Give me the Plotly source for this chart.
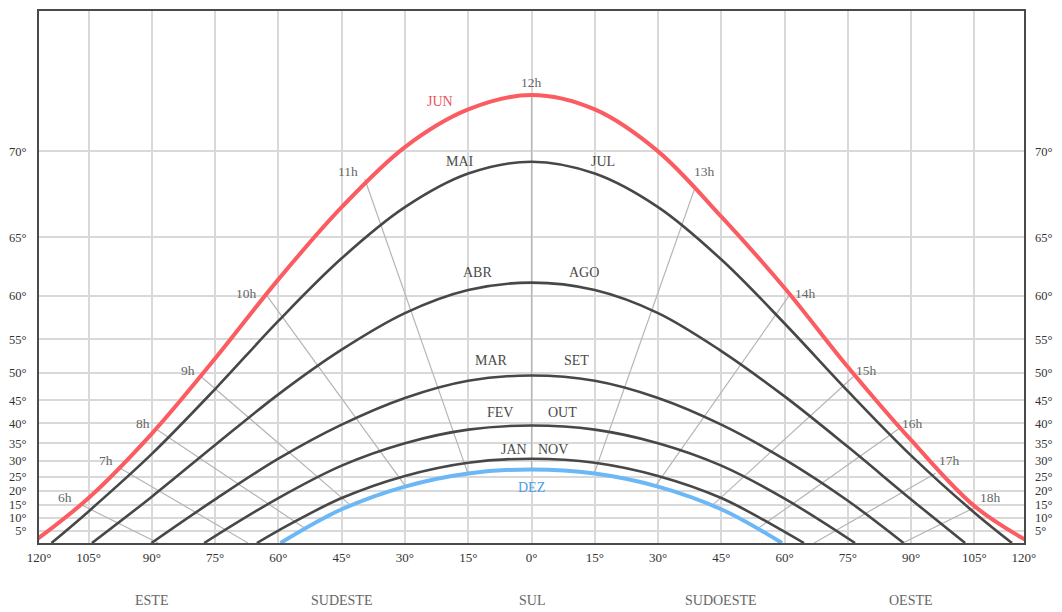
import numpy as np
import plotly.graph_objects as go

# Sun paths: azimuth measured from south (degrees, east negative) and solar altitude (degrees)
JUN_AZ = [-118.4, -105, -90, -75, -60, -45, -30, -15, 0, 15, 30, 45, 60, 75, 90, 105, 118.4]
JUN_ALT = [0, 17.5, 37.5, 52.3, 61.6, 67.0, 70.2, 71.8, 72.35, 71.8, 70.0, 66.4, 60.8, 51.0, 35.8, 14.5, 0]

MAI_AZ = [-113.8, -105, -90, -75, -60, -45, -30, -15, 0, 15, 30, 45, 60, 75, 90, 105, 113.9]
MAI_ALT = [0, 12.5, 32.0, 47.2, 57.3, 63.4, 67.0, 68.9, 69.5, 68.9, 67.0, 63.3, 57.0, 46.8, 31.5, 12.0, 0]

ABR_AZ = [-104.2, -90, -75, -60, -45, -30, -15, 0, 15, 30, 45, 60, 75, 90, 102.8]
ABR_ALT = [0, 18.0, 34.5, 46.2, 53.6, 58.2, 60.6, 61.3, 60.6, 58.2, 53.4, 45.8, 34.0, 17.0, 0]

MAR_AZ = [-90.1, -75, -60, -45, -30, -15, 0, 15, 30, 45, 60, 75, 88.2]
MAR_ALT = [0, 17.0, 30.6, 39.7, 45.5, 48.7, 49.6, 48.7, 45.5, 39.7, 30.4, 16.5, 0]

FEV_AZ = [-77.6, -60, -45, -30, -15, 0, 15, 30, 45, 60, 76.7]
FEV_ALT = [0, 17.5, 28.5, 35.0, 38.5, 39.5, 38.5, 35.0, 28.5, 17.3, 0]

JAN_AZ = [-65.1, -60, -45, -30, -15, 0, 15, 30, 45, 60, 64.6]
JAN_ALT = [0, 5.0, 17.5, 25.2, 29.4, 30.6, 29.4, 25.2, 17.5, 4.5, 0]

DEZ_AZ = [-59.5, -45, -30, -15, 0, 15, 30, 45, 59.4]
DEZ_ALT = [0, 13.3, 21.6, 26.0, 27.3, 26.0, 21.6, 13.3, 0]

# Hour lines: from the June path down to the December path (or the horizon)
HOUR_LABELS = ["6h", "7h", "8h", "9h", "10h", "11h", "12h", "13h", "14h", "15h", "16h", "17h", "18h"]
HOUR_TOP_AZ = [-106.6, -97.9, -89.2, -78.3, -63.0, -39.5, 0, 38.7, 61.5, 76.6, 87.5, 95.8, 105.2]
HOUR_TOP_ALT = [14.9, 28.0, 38.8, 49.4, 60.2, 68.6, 72.35, 68.1, 60.3, 49.6, 39.0, 26.1, 14.1]
HOUR_END_AZ = [-88.5, -67.2, -54.0, -42.8, -29.7, -15.1, 0, 14.9, 29.2, 42.8, 54.0, 67.0, 88.0]
HOUR_END_ALT = [0, 0, 6.2, 14.7, 21.4, 26.1, 27.3, 26.1, 21.4, 14.7, 6.2, 0, 0]

# Axis ticks
AZ_TICKS = [-120, -105, -90, -75, -60, -45, -30, -15, 0, 15, 30, 45, 60, 75, 90, 105, 120]
ALT_TICKS = [5, 10, 15, 20, 25, 30, 35, 40, 45, 50, 55, 60, 65, 70]
DIRECTIONS = ["ESTE", "SUDESTE", "SUL", "SUDOESTE", "OESTE"]
DIRECTION_AZ = [-90, -45, 0, 45, 90]

SERIF = "Liberation Serif, Times New Roman, serif"
AZ_LIMIT = 116.75          # half-width of the azimuth window
ALT_TOP = 75               # altitude at the top of the frame


def ty(alt):
    """Altitude (degrees) -> vertical coordinate (tangent projection)."""
    return np.tan(np.radians(np.asarray(alt, dtype=float)))


fig = go.Figure()

# hour lines
for i, lab in enumerate(HOUR_LABELS):
    fig.add_trace(go.Scatter(
        x=[HOUR_TOP_AZ[i], HOUR_END_AZ[i]],
        y=ty([HOUR_TOP_ALT[i], HOUR_END_ALT[i]]),
        mode="lines", line=dict(color="#b5b5b5", width=1.2),
        hoverinfo="skip", showlegend=False))

curves = [
    (MAI_AZ, MAI_ALT, "#474747", 2.6),
    (ABR_AZ, ABR_ALT, "#474747", 2.6),
    (MAR_AZ, MAR_ALT, "#474747", 2.6),
    (FEV_AZ, FEV_ALT, "#474747", 2.6),
    (JAN_AZ, JAN_ALT, "#474747", 2.6),
    (DEZ_AZ, DEZ_ALT, "#6cb8f6", 4),
    (JUN_AZ, JUN_ALT, "#fb5c62", 4),
]
for az, alt, col, w in curves:
    fig.add_trace(go.Scatter(
        x=az, y=ty(alt), mode="lines",
        line=dict(color=col, width=w, shape="spline", smoothing=1.0),
        hoverinfo="skip", showlegend=False))

# invisible trace so the right-hand altitude axis is drawn
fig.add_trace(go.Scatter(x=[0], y=[0], yaxis="y2", mode="markers",
                         marker=dict(opacity=0), hoverinfo="skip", showlegend=False))

# month labels (azimuth, altitude of text centre)
month_labels = [
    ("JUN", -21.7, 72.1, "#e9545c"),
    ("MAI", -17.0, 69.5, "#4a4a4a"), ("JUL", 17.0, 69.5, "#4a4a4a"),
    ("ABR", -12.7, 62.2, "#4a4a4a"), ("AGO", 12.5, 62.2, "#4a4a4a"),
    ("MAR", -9.4, 52.0, "#4a4a4a"), ("SET", 10.6, 52.0, "#4a4a4a"),
    ("FEV", -7.5, 42.5, "#4a4a4a"), ("OUT", 7.3, 42.5, "#4a4a4a"),
    ("JAN", -4.2, 33.3, "#4a4a4a"), ("NOV", 5.0, 33.3, "#4a4a4a"),
    ("DEZ", 0.0, 21.4, "#4c9fe6"),
]
annotations = []
for txt, az, alt, col in month_labels:
    annotations.append(dict(x=az, y=float(ty(alt)), text=txt, showarrow=False,
                            font=dict(family=SERIF, size=14, color=col),
                            xanchor="center", yanchor="middle"))

hour_label_pos = [
    (-110.6, 17.8), (-100.9, 30.1), (-92.2, 40.0), (-81.4, 50.4), (-67.5, 60.3), (-43.4, 69.0),
    (0.0, 72.8),
    (41.0, 69.0), (64.9, 60.3), (79.5, 50.4), (90.3, 40.0), (99.1, 30.1), (108.7, 17.8),
]
for lab, (az, alt) in zip(HOUR_LABELS, hour_label_pos):
    annotations.append(dict(x=az, y=float(ty(alt)), text=lab, showarrow=False,
                            font=dict(family=SERIF, size=13.5, color="#666666"),
                            xanchor="center", yanchor="middle"))

for d, az in zip(DIRECTIONS, DIRECTION_AZ):
    annotations.append(dict(x=az, y=0, yref="paper", yshift=-57, text=d, showarrow=False,
                            font=dict(family=SERIF, size=14, color="#666666"),
                            xanchor="center", yanchor="middle"))

az_tickvals = [max(-AZ_LIMIT + 0.05, min(AZ_LIMIT - 0.05, v)) for v in AZ_TICKS]
az_ticktext = [f"{abs(v)}°" for v in AZ_TICKS]
alt_tickvals = [float(v) for v in ty(ALT_TICKS)]
alt_ticktext = [f"{v}°" for v in ALT_TICKS]
y_range = [0, float(ty(ALT_TOP))]

yaxis_common = dict(range=y_range, tickvals=alt_tickvals, ticktext=alt_ticktext,
                    tickfont=dict(family=SERIF, size=12.5, color="#333333"),
                    ticks="", zeroline=False, fixedrange=True)

fig.update_layout(
    width=1062, height=612,
    margin=dict(l=39, r=33, t=9, b=69),
    paper_bgcolor="white", plot_bgcolor="white",
    xaxis=dict(range=[-AZ_LIMIT, AZ_LIMIT], tickvals=az_tickvals, ticktext=az_ticktext,
               tickfont=dict(family=SERIF, size=13, color="#333333"),
               ticks="", showgrid=True, gridcolor="#d9d9d9", gridwidth=1.5,
               showline=True, linecolor="#4a4a4a", linewidth=2, mirror=True,
               zeroline=False, ticklabelstandoff=1),
    yaxis=dict(**yaxis_common, showgrid=True, gridcolor="#d9d9d9", gridwidth=1.5,
               showline=True, linecolor="#4a4a4a", linewidth=2, mirror=True,
               ticklabelstandoff=8),
    yaxis2=dict(**yaxis_common, overlaying="y", side="right", showgrid=False,
                showline=False, ticklabelstandoff=10),
    annotations=annotations,
    showlegend=False,
)

fig.write_html("out.html")
